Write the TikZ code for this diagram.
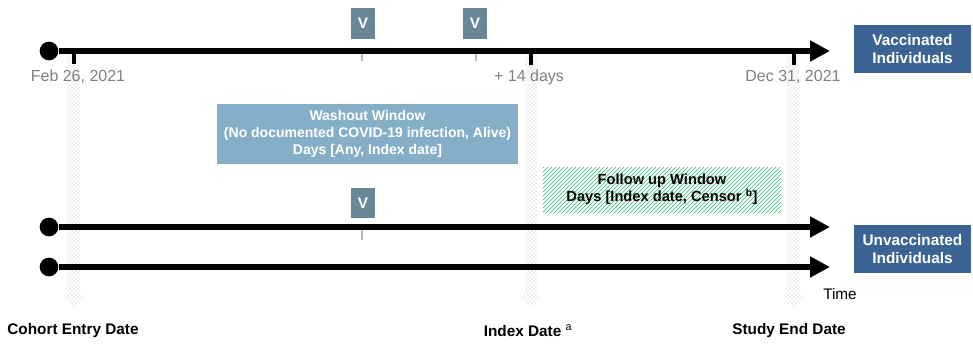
\documentclass[tikz,border=0pt]{standalone}
\usepackage{fontspec}
\setmainfont{Liberation Sans}
\usepackage{tikz}
\usetikzlibrary{arrows.meta,positioning,patterns}

\definecolor{groupblue}{RGB}{59,100,148}
\definecolor{vslate}{RGB}{106,135,152}
\definecolor{washblue}{RGB}{133,175,200}
\definecolor{followgreen}{RGB}{40,185,115}
\definecolor{dategray}{RGB}{127,127,127}

\begin{document}
\begin{tikzpicture}[x=0.75pt,y=-0.75pt,
  dot/.style={circle, fill=black, inner sep=0pt, minimum size=14pt},
  timeline/.style={-{Triangle[length=15pt,width=15pt]}, line width=4.5pt},
  group/.style={rectangle, fill=groupblue, text=white, align=center, minimum width=87.75pt, minimum height=36pt, inner sep=0pt, font=\fontsize{11.5}{13.5}\selectfont\bfseries},
  vbox/.style={rectangle, fill=vslate, text=white, minimum width=18pt, minimum height=23pt, inner sep=0pt, font=\fontsize{11.5}{13.5}\selectfont\bfseries},
  window/.style={rectangle, align=center, inner sep=0pt, font=\fontsize{10.5}{12.5}\selectfont\bfseries},
  datelabel/.style={text=dategray, font=\fontsize{12}{14}\selectfont},
  marklabel/.style={font=\fontsize{11.5}{13.5}\selectfont\bfseries},
  tick/.style={line width=3pt},
  vtick/.style={line width=2.2pt, gray!55},
  band/.style={pattern=crosshatch dots, pattern color=gray!55}
]
\useasboundingbox (0,0) rectangle (973,343);

% dotted date bands
\foreach \bx in {74,531,793}
  \path[band] (\bx-6.5,54) -- (\bx+6.5,54) -- (\bx+6.5,295) -- (\bx+12,295)
    -- (\bx,308) -- (\bx-12,295) -- (\bx-6.5,295) -- cycle;

% windows
\node[window, fill=washblue, text=white, minimum width=225.75pt, minimum height=45pt] (washout) at (367.5,134)
  {Washout Window\\(No documented COVID-19 infection, Alive)\\Days [Any, Index date]};
\node[window, pattern=north east lines, pattern color=followgreen, minimum width=178.5pt, minimum height=33.75pt] (follow) at (662,189.5) {};
\node[window, font=\fontsize{11}{13}\selectfont\bfseries] (followtxt) at (follow.center)
  {Follow up Window\\Days [Index date, Censor \textsuperscript{b}]};

% vaccinated timeline
\node[dot] (vacStart) at (49,51) {};
\coordinate (vacEnd) at (830,51);
\draw[tick] (74,51) -- ++(0,13);
\draw[tick] (531,51) -- ++(0,14);
\draw[tick] (793.5,51) -- ++(0,14);
\draw[vtick] (362,51) -- ++(0,10);
\draw[vtick] (476,51) -- ++(0,10);
\draw[timeline] (vacStart) -- (vacEnd);
\node[vbox] (vdose1) at (363,23.5) {V};
\node[vbox] (vdose2) at (475,23.5) {V};
\node[datelabel] (entry) at (78,77) {Feb 26, 2021};
\node[datelabel] (plus14) at (529,77) {+ 14 days};
\node[datelabel] (studyend) at (793,77) {Dec 31, 2021};
\node[group] (vaccinated) at (912.5,49) {Vaccinated\\Individuals};

% unvaccinated timelines
\node[dot] (unvStartA) at (49,227) {};
\coordinate (unvEndA) at (830,227);
\node[dot] (unvStartB) at (49,267) {};
\coordinate (unvEndB) at (830,267);
\draw[vtick] (362,227) -- ++(0,13);
\draw[timeline] (unvStartA) -- (unvEndA);
\draw[timeline] (unvStartB) -- (unvEndB);
\node[vbox] (vdose3) at (363,203) {V};
\node[group] (unvaccinated) at (912.5,249) {Unvaccinated\\Individuals};

% bottom labels
\node[font=\fontsize{11.5}{13.5}\selectfont] (time) at (840,294) {Time};
\node[marklabel] (cohortentry) at (73,331) {Cohort Entry Date};
\node[marklabel] (indexdate) at (528,331) {Index Date \textsuperscript{\mdseries a}};
\node[marklabel] (studyenddate) at (789,331) {Study End Date};

\end{tikzpicture}
\end{document}
